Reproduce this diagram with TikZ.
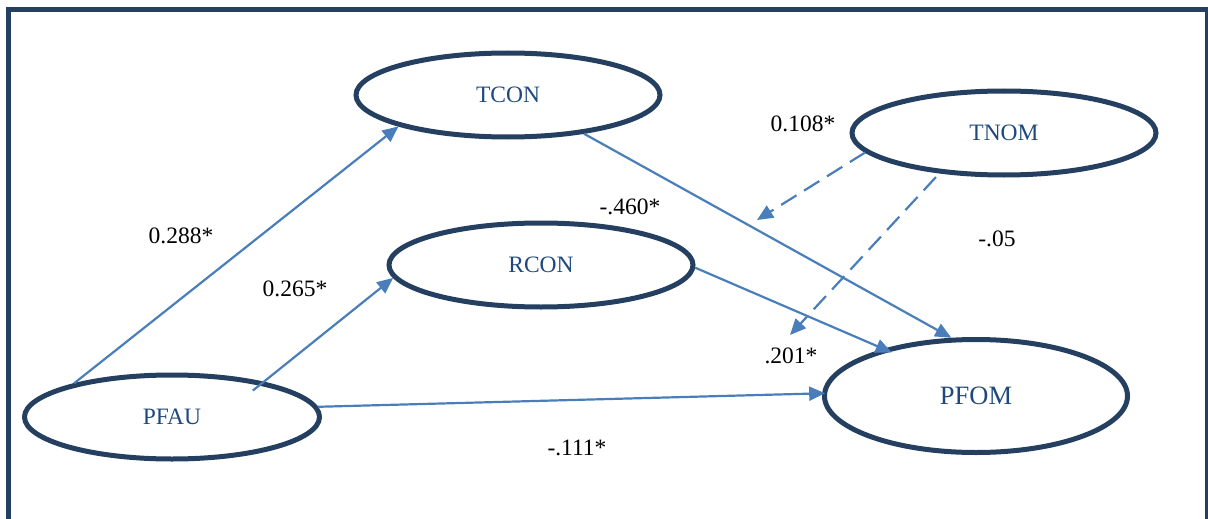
\documentclass[tikz,border=0pt]{standalone}
\usepackage{fontspec}
\setmainfont{Liberation Serif}
\usetikzlibrary{shapes.geometric, arrows.meta}
\definecolor{navy}{HTML}{243F60}
\definecolor{lineblue}{HTML}{4A7EBB}
\definecolor{textblue}{HTML}{1F497D}
\tikzset{
  latent/.style={ellipse, draw=navy, line width=5pt, inner sep=0pt,
    minimum width=304pt, minimum height=84pt, text=textblue,
    font=\fontsize{23.5}{28}\selectfont},
  effect/.style={draw=lineblue, line width=2.2pt, -{Triangle[length=16pt,width=14pt]}},
  moderated/.style={effect, dash pattern=on 18pt off 9pt},
  coef/.style={inner sep=0pt, font=\fontsize{23.5}{28}\selectfont},
}
\begin{document}
\begin{tikzpicture}[x=1pt,y=1pt,yscale=-1,xscale=1]
\useasboundingbox (0,0) rectangle (1208,519);

%Frame
\draw [navy, line width=5pt] (8.5,519) -- (8.5,10) -- (1207.5,10) -- (1207.5,519);

%Latent variables
\node [latent] (tcon) at (508,95) {TCON};
\node [latent] (tnom) at (1004,133) {TNOM};
\node [latent] (rcon) at (541,265) {RCON};
\node [latent, minimum width=295pt] (pfau) at (172,417) {PFAU};
\node [latent, minimum width=303pt, minimum height=113pt,
  font=\fontsize{26.5}{30}\selectfont] (pfom) at (976,396) {PFOM};

%Free ends of the dashed arrows
\coordinate (mod1) at (757,220);
\coordinate (mod2) at (790,335);

%Paths
\draw [effect] (pfau.161.6) -- (tcon.196);
\draw [effect, shorten <=-14pt] (pfau.21) -- (rcon.185.5);
\draw [effect, shorten >=-3pt] (pfau.4) -- (pfom.179.5);
\draw [effect] (tcon.333) -- (pfom.113);
\draw [effect, shorten >=-9pt] (rcon.359) -- (pfom.153);
\draw [moderated] (tnom.188) -- (mod1);
\draw [moderated, shorten <=5pt] (tnom.212.5) -- (mod2);

% Text Node
\node [coef] (c1) at (181,236) {0.288*};
\node [coef] (c2) at (295,289) {0.265*};
\node [coef] (c3) at (630,207) {-.460*};
\node [coef] (c4) at (803,124) {0.108*};
\node [coef] (c5) at (997,239) {-.05};
\node [coef] (c6) at (791,356) {.201*};
\node [coef] (c7) at (577,448) {-.111*};

\end{tikzpicture}
\end{document}
